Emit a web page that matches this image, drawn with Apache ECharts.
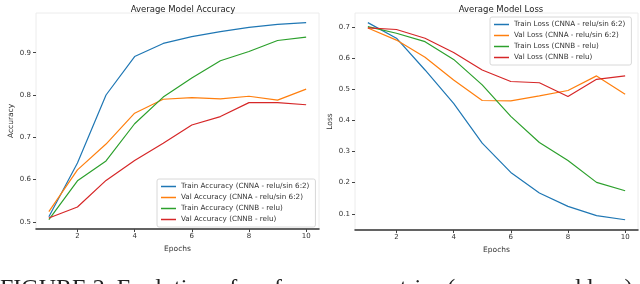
<!DOCTYPE html>
<html><head><meta charset="utf-8">
<script src="https://cdn.jsdelivr.net/npm/echarts@6/dist/echarts.min.js"></script>
<style>html,body{margin:0;padding:0;background:#fff;overflow:hidden;}#c{width:640px;height:284px;}</style>
</head><body><div id="c"></div>
<script>
const epochs = [1,2,3,4,5,6,7,8,9,10];
const accTicks = [0.5,0.6,0.7,0.8,0.9];
const lossTicks = [0.1,0.2,0.3,0.4,0.5,0.6,0.7];
const epochTicks = [2,4,6,8,10];

const trainAccA = [0.512,0.639,0.800,0.891,0.922,0.938,0.950,0.960,0.967,0.971];
const valAccA   = [0.524,0.623,0.684,0.757,0.790,0.794,0.791,0.797,0.788,0.814];
const trainAccB = [0.505,0.597,0.644,0.732,0.795,0.840,0.881,0.903,0.929,0.937];
const valAccB   = [0.509,0.535,0.598,0.645,0.686,0.729,0.749,0.782,0.782,0.777];

const trainLossA = [0.714,0.664,0.562,0.455,0.327,0.233,0.167,0.124,0.094,0.081];
const valLossA   = [0.697,0.658,0.603,0.530,0.464,0.463,0.479,0.496,0.543,0.484];
const trainLossB = [0.701,0.680,0.653,0.596,0.514,0.413,0.329,0.271,0.201,0.174];
const valLossB   = [0.697,0.692,0.664,0.618,0.562,0.525,0.521,0.477,0.532,0.543];

const accNames = ['Train Accuracy (CNNA - relu/sin 6:2)','Val Accuracy (CNNA - relu/sin 6:2)','Train Accuracy (CNNB - relu)','Val Accuracy (CNNB - relu)'];
const lossNames = ['Train Loss (CNNA - relu/sin 6:2)','Val Loss (CNNA - relu/sin 6:2)','Train Loss (CNNB - relu)','Val Loss (CNNB - relu)'];
const colors = ['#1f77b4','#ff7f0e','#2ca02c','#d62728'];

const FONT = 'DejaVu Sans';
const pair = a => epochs.map((e,i)=>[e,a[i]]);

function xAx(gi){
  return {type:'value',gridIndex:gi,min:0.55,max:10.45,
    name:'Epochs',nameLocation:'middle',nameGap:13,
    nameTextStyle:{fontFamily:FONT,fontSize:7.5,color:'#333'},
    axisLine:{show:true,lineStyle:{color:'#333',width:1.5}},
    axisTick:{show:true,customValues:epochTicks,length:3,lineStyle:{color:'#444',width:1}},
    axisLabel:{customValues:epochTicks,fontFamily:FONT,fontSize:7,color:'#333',margin:4},
    splitLine:{show:false}};
}
function yAx(gi,min,max,ticks,name,gap){
  return {type:'value',gridIndex:gi,min:min,max:max,
    name:name,nameLocation:'middle',nameGap:gap,nameRotate:90,
    nameTextStyle:{fontFamily:FONT,fontSize:7.5,color:'#333'},
    axisLine:{show:false},
    axisTick:{show:true,customValues:ticks,length:3,lineStyle:{color:'#444',width:1}},
    axisLabel:{customValues:ticks,fontFamily:FONT,fontSize:7,color:'#333',margin:5,formatter:v=>v.toFixed(1)},
    splitLine:{show:false}};
}
function ser(name,data,gi,ci){
  return {name:name,type:'line',xAxisIndex:gi,yAxisIndex:gi,data:pair(data),
    showSymbol:false,symbol:'none',lineStyle:{width:1.2,color:colors[ci]},itemStyle:{color:colors[ci]},
    animation:false};
}
function leg(names,left,top){
  return {data:names,left:left,top:top,orient:'vertical',itemGap:4,itemWidth:15,itemHeight:1.5,
    icon:'rect',padding:[4,6,4,4],backgroundColor:'rgba(255,255,255,0.85)',
    borderColor:'#d8d8d8',borderWidth:1,borderRadius:2,
    textStyle:{fontFamily:FONT,fontSize:7.2,color:'#333',padding:[0,0,0,0]}};
}

const chart = echarts.init(document.getElementById('c'),null,{renderer:'canvas'});
chart.setOption({
  animation:false,
  backgroundColor:'#fff',
  title:[
    {text:'Average Model Accuracy',left:178,top:0,textAlign:'center',textStyle:{fontFamily:FONT,fontSize:8.5,fontWeight:'normal',color:'#222'}},
    {text:'Average Model Loss',left:496,top:0,textAlign:'center',textStyle:{fontFamily:FONT,fontSize:8.5,fontWeight:'normal',color:'#222'}}
  ],
  grid:[
    {left:36,top:13,width:283,height:216,show:true,borderColor:'#ececec',borderWidth:1,backgroundColor:'#fff'},
    {left:355,top:13,width:283,height:217,show:true,borderColor:'#ececec',borderWidth:1,backgroundColor:'#fff'}
  ],
  xAxis:[xAx(0),xAx(1)],
  yAxis:[yAx(0,0.483,0.994,accTicks,'Accuracy',21),yAx(1,0.048,0.745,lossTicks,'Loss',21)],
  legend:[leg(accNames,157,179),leg(lossNames,490,17)],
  series:[
    ser(accNames[0],trainAccA,0,0),ser(accNames[1],valAccA,0,1),ser(accNames[2],trainAccB,0,2),ser(accNames[3],valAccB,0,3),
    ser(lossNames[0],trainLossA,1,0),ser(lossNames[1],valLossA,1,1),ser(lossNames[2],trainLossB,1,2),ser(lossNames[3],valLossB,1,3)
  ],
  graphic:[
    {type:'text',left:0,top:277,style:{text:'FIGURE 2. Evolution of performance metrics (accuracy and loss)',font:'24px "Liberation Serif"',fill:'#222'}}
  ]
});
</script>
</body></html>
